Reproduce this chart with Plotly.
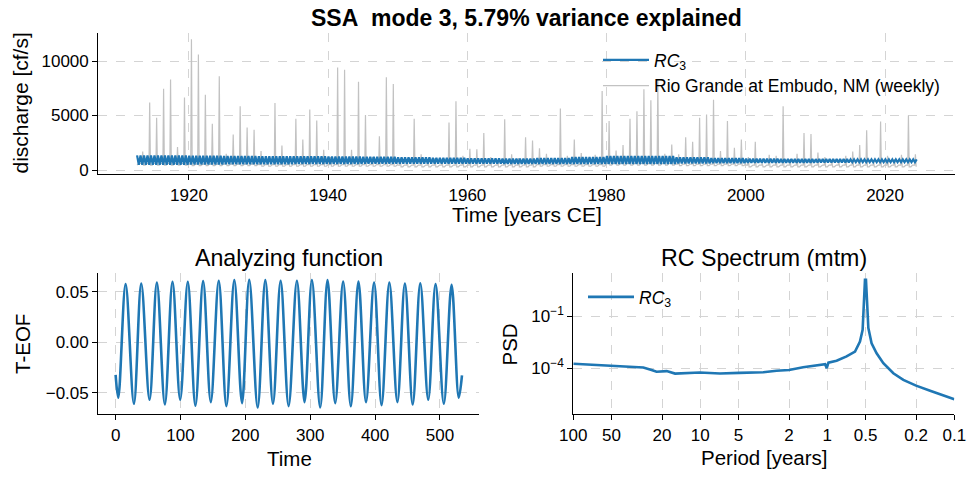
import plotly.graph_objects as go

# ---------------- data ----------------
# annual spring-runoff peak of the weekly Rio Grande series [cf/s], 1913..2024
flow_years = list(range(1913, 2025))
flow_peaks = [1700, 6200, 4800, 7450, 8300, 2100, 6650, 12000, 10600, 6900,
              4250, 8600, 1500, 3250, 5850, 3900, 3700, 1750, 1000, 6150,
              2250, 800, 4700, 2800, 5550, 4550, 1850, 1200, 9400, 9200,
              1850, 8100, 5050, 1200, 3100, 8500, 7900, 1000, 900, 4700,
              1450, 900, 1100, 800, 4350, 6300, 1300, 1950, 1900, 3400,
              1200, 900, 4650, 1450, 1100, 3000, 2700, 2000, 1500, 900,
              5650, 1300, 2800, 1550, 700, 1400, 7250, 4500, 1800, 2300,
              4700, 5400, 7400, 6400, 8300, 1500, 2350, 1450, 3000, 2600,
              4800, 5100, 6450, 1750, 4500, 2050, 2800, 1200, 2600, 600,
              1400, 1300, 5850, 1000, 1500, 3400, 3300, 1600, 1200, 900,
              800, 1300, 1700, 2300, 3650, 700, 4450, 1300, 1000, 1400,
              5000, 1450]
# low-flow levels by decade (1910s .. 2020s)
flow_decades = [1910, 1920, 1930, 1940, 1950, 1960, 1970, 1980, 1990, 2000, 2010, 2020]
winter_flow = [600, 550, 500, 500, 450, 450, 500, 600, 550, 450, 450, 450]
summer_flow = [450, 400, 350, 350, 300, 300, 350, 450, 400, 300, 300, 300]
series_start, series_end = 1912.55, 2024.6

# RC3 envelope (upper / lower swing) by 5-year block, 1910 .. 2020
rc_blocks = list(range(1910, 2025, 5))
rc_upper = [1350, 1350, 1320, 1300, 1270, 1260, 1250, 1220, 1180, 1120, 1070, 1040,
            1100, 1200, 1280, 1280, 1180, 1100, 1040, 1020, 1000, 980, 980]
rc_lower = [490, 490, 510, 520, 540, 550, 560, 570, 580, 590, 580, 570,
            560, 560, 550, 560, 600, 630, 655, 670, 700, 720, 720]

# analyzing function (T-EOF): start, alternating extrema, end
af_time = [0, 4.1, 15.4, 28.2, 39.5, 52.3, 63.6, 75.9, 87.7, 99.5, 111.3, 123,
           134.9, 146.7, 159, 170.8, 183, 194.9, 206, 219, 230.8, 242.6, 254.4,
           266.7, 279.5, 291.3, 302.6, 315.4, 326.7, 338.5, 350.8, 362.6, 374.4,
           386, 398.5, 410, 422, 434.4, 446, 458, 469.7, 482, 493.3, 506, 518,
           529, 534]
af_value = [-0.0325, -0.0551, 0.0575, -0.0611, 0.0581, -0.0571, 0.0591, -0.0617,
            0.0598, -0.0571, 0.0598, -0.0630, 0.0604, -0.0594, 0.0608, -0.0634,
            0.0614, -0.0604, 0.0618, -0.0647, 0.0614, -0.0611, 0.0608, -0.0634,
            0.0608, -0.0594, 0.0614, -0.0647, 0.0614, -0.0604, 0.0601, -0.0634,
            0.0601, -0.0594, 0.0591, -0.0624, 0.0591, -0.0594, 0.0581, -0.0618,
            0.0584, -0.0571, 0.0575, -0.0611, 0.0568, -0.0551, -0.0330]

# RC spectrum (mtm)
spec_period = [100, 49.3, 28.1, 24.2, 22.1, 18.4, 15.8, 10.1, 7.0, 4.93, 3.94, 3.19,
               2.51, 2.0, 1.55, 1.21, 1.04, 1.01, 0.98, 0.845, 0.705, 0.605, 0.553,
               0.527, 0.514, 0.505, 0.496, 0.49, 0.475, 0.448, 0.409, 0.362, 0.302,
               0.252, 0.2, 0.155, 0.122, 0.1]
spec_psd = [1.8e-4, 1.4e-4, 1.1e-4, 7.9e-5, 6.2e-5, 6.8e-5, 4.9e-5, 5.6e-5, 4.9e-5,
            5.4e-5, 5.6e-5, 5.9e-5, 7.1e-5, 7.9e-5, 1.15e-4, 1.4e-4, 1.7e-4, 1.0e-4,
            2.1e-4, 2.7e-4, 4.8e-4, 9.3e-4, 3.5e-3, 1.7e-2, 0.74, 13.5, 13.5, 1.15,
            2.1e-2, 2.8e-3, 7.4e-4, 1.95e-4, 5.1e-5, 2.1e-5, 9.8e-6, 5.0e-6, 2.6e-6,
            1.6e-6]

x_ticks_top = [1920, 1940, 1960, 1980, 2000, 2020]
y_ticks_top = [0, 5000, 10000]
af_xticks = [0, 100, 200, 300, 400, 500]
af_yticks = [-0.05, 0.0, 0.05]
af_yticktext = ["\u22120.05", "0.00", "0.05"]
spec_xticks = [100, 50, 20, 10, 5, 2, 1, 0.5, 0.2, 0.1]
spec_xticktext = ["100", "50", "20", "10", "5", "2", "1", "0.5", "0.2", "0.1"]
spec_yticks = [1e-1, 1e-4]
spec_yticktext = ["10<sup>\u22121</sup>", "10<sup>\u22124</sup>"]

# ---------------- build drawable series ----------------
def decade_value(lst, t):
    i = min(max(int((t - 1910) // 10), 0), len(lst) - 1)
    return lst[i]

gx, gy = [series_start, 1912.75], [decade_value(summer_flow, 1912.6), decade_value(winter_flow, 1912.8)]
for yr, pk in zip(flow_years, flow_peaks):
    w = decade_value(winter_flow, yr)
    s = decade_value(summer_flow, yr)
    for off, val in ((0.02, w), (0.26, w), (0.36, pk), (0.47, s), (0.72, s), (0.95, w)):
        t = yr + off
        if t <= series_end:
            gx.append(t)
            gy.append(val)

rx, ry = [], []
t = series_start
k = 0
while t <= series_end + 1e-9:
    b = min(int((t - 1910) // 5), len(rc_blocks) - 1)
    rx.append(t)
    ry.append(rc_upper[b] if k % 2 == 0 else rc_lower[b])
    t += 0.25
    k += 1

BLUE = "#1f77b4"
FONT = "Liberation Sans, Arial, sans-serif"

fig = go.Figure()
fig.add_trace(go.Scatter(x=gx, y=gy, mode="lines", line=dict(color="#c2c2c2", width=1.2),
                         name="Rio Grande at Embudo, NM (weekly)", legendrank=2,
                         xaxis="x", yaxis="y", legend="legend"))
fig.add_trace(go.Scatter(x=rx, y=ry, mode="lines", line=dict(color=BLUE, width=2.2),
                         name="<i>RC</i><sub>3</sub>", legendrank=1,
                         xaxis="x", yaxis="y", legend="legend"))
fig.add_trace(go.Scatter(x=af_time, y=af_value, mode="lines",
                         line=dict(color=BLUE, width=2.6, shape="spline", smoothing=1.0),
                         showlegend=False, xaxis="x2", yaxis="y2"))
fig.add_trace(go.Scatter(x=spec_period, y=spec_psd, mode="lines",
                         line=dict(color=BLUE, width=2.6),
                         name="<i>RC</i><sub>3</sub>", xaxis="x3", yaxis="y3", legend="legend2"))

W, H = 977, 477
def px(x):
    return x / W
def py(y):
    return 1 - y / H

TICK = 17
axis_common = dict(showline=True, linecolor="black", linewidth=1.3, ticks="outside",
                   ticklen=5, tickwidth=1.2, tickcolor="black", showgrid=True,
                   gridcolor="#d4d4d4", griddash="dash", gridwidth=1, zeroline=False,
                   mirror=False, automargin=False,
                   tickfont=dict(size=TICK, color="black", family=FONT))

fig.update_layout(
    width=W, height=H, margin=dict(l=0, r=0, t=0, b=0, autoexpand=False),
    paper_bgcolor="white", plot_bgcolor="white",
    font=dict(family=FONT, color="black"),
    xaxis=dict(axis_common, domain=[px(98.3), px(955)], range=[1906.98, 2030.05],
               tickvals=x_ticks_top, anchor="y"),
    yaxis=dict(axis_common, domain=[py(174.3), py(33.3)], range=[-390, 12540],
               tickvals=y_ticks_top, tickformat="d", anchor="x"),
    xaxis2=dict(axis_common, domain=[px(98.3), px(479.3)], range=[-26.7, 560.7],
                tickvals=af_xticks, anchor="y2"),
    yaxis2=dict(axis_common, domain=[py(414.3), py(273.3)], range=[-0.0715, 0.0682],
                tickvals=af_yticks, ticktext=af_yticktext, anchor="x2"),
    xaxis3=dict(axis_common, type="log", domain=[px(573.3), px(954.3)], range=[2, -1],
                tickvals=spec_xticks, ticktext=spec_xticktext, anchor="y3"),
    yaxis3=dict(axis_common, type="log", domain=[py(414.3), py(273.3)], range=[-6.67, 1.5],
                tickvals=spec_yticks, ticktext=spec_yticktext, anchor="x3"),
    legend=dict(x=px(598), y=py(42), xanchor="left", yanchor="top", itemwidth=46,
                bgcolor="rgba(0,0,0,0)", font=dict(size=17.5, family=FONT, color="black"),
                traceorder="normal", tracegroupgap=0),
    legend2=dict(x=px(583), y=py(279), xanchor="left", yanchor="top", itemwidth=46,
                 bgcolor="rgba(0,0,0,0)", font=dict(size=17.5, family=FONT, color="black")),
    showlegend=True,
)

annotations = [
    dict(text="<b>SSA\u00a0\u00a0mode 3, 5.79% variance explained</b>", x=px(526.6), y=py(18.5),
         font=dict(size=23)),
    dict(text="Time [years CE]", x=px(526.6), y=py(214), font=dict(size=21)),
    dict(text="discharge [cf/s]", x=px(19.5), y=py(103), font=dict(size=21)),
    dict(text="Analyzing function", x=px(289), y=py(258), font=dict(size=23.2)),
    dict(text="RC Spectrum (mtm)", x=px(764), y=py(258), font=dict(size=23.2)),
    dict(text="Time", x=px(289), y=py(458), font=dict(size=20.5)),
    dict(text="Period [years]", x=px(764), y=py(457), font=dict(size=20.5)),
    dict(text="T-EOF", x=px(22), y=py(344), font=dict(size=20.5)),
    dict(text="PSD", x=px(508.5), y=py(344), font=dict(size=20.5)),
]
for a in annotations:
    if a["text"] in ("discharge [cf/s]", "T-EOF", "PSD"):
        a["textangle"] = -90
    a.update(xref="paper", yref="paper", xanchor="center", yanchor="middle", showarrow=False)
    a["font"].update(family=FONT, color="black")
fig.update_layout(annotations=annotations)

# remove the browser's default 8px body margin so the figure fills the window exactly
fig.write_html("out.html", config={"displayModeBar": False},
               post_script="document.body.style.margin='0';")
